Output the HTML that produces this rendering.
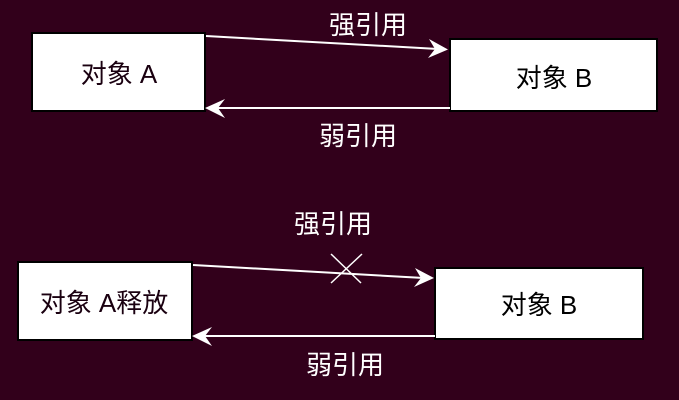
<!DOCTYPE html>
<html>
<head>
<meta charset="utf-8">
<style>
html,body{margin:0;padding:0;background:#32001b;}
svg{display:block;}
text{font-family:"Liberation Sans","Noto Sans CJK SC",sans-serif;}
</style>
</head>
<body>
<svg width="679" height="400" viewBox="0 0 679 400" xmlns="http://www.w3.org/2000/svg">
<rect x="0" y="0" width="679" height="400" fill="#32001b"/>
<!-- Top section -->
<rect x="32" y="33" width="173" height="78" fill="#fff" stroke="#000" stroke-width="2"/>
<text x="119" y="83" font-size="26" text-anchor="middle" fill="#1a0010">对象 A</text>
<rect x="450" y="39" width="207" height="72" fill="#fff" stroke="#000" stroke-width="2"/>
<text x="554" y="87" font-size="26" text-anchor="middle" fill="#000">对象 B</text>

<line x1="206" y1="36" x2="438" y2="49" stroke="#fff" stroke-width="2"/>
<polygon points="448,49.5 428,58 435,49 429,39" fill="#fff"/>
<text x="368" y="34" font-size="26" text-anchor="middle" fill="#fff">强引用</text>

<line x1="450" y1="108" x2="215" y2="108" stroke="#fff" stroke-width="2"/>
<polygon points="205,108 225,99 218,108 225,118" fill="#fff"/>
<text x="358" y="145" font-size="26" text-anchor="middle" fill="#fff">弱引用</text>

<!-- Bottom section -->
<rect x="18" y="262" width="174" height="78" fill="#fff" stroke="#000" stroke-width="2"/>
<text x="104" y="312" font-size="26" text-anchor="middle" fill="#1a0010">对象 A释放</text>
<rect x="435" y="268" width="208" height="71" fill="#fff" stroke="#000" stroke-width="2"/>
<text x="539" y="314" font-size="26" text-anchor="middle" fill="#000">对象 B</text>

<line x1="193" y1="265" x2="424" y2="278" stroke="#fff" stroke-width="2"/>
<polygon points="434,278 414,287 421,278 415,268" fill="#fff"/>
<line x1="331" y1="254" x2="361" y2="283" stroke="#fff" stroke-width="1.5"/>
<line x1="362" y1="254" x2="331" y2="283" stroke="#fff" stroke-width="1.5"/>
<text x="333" y="233" font-size="26" text-anchor="middle" fill="#fff">强引用</text>

<line x1="435" y1="336" x2="202" y2="336" stroke="#fff" stroke-width="2"/>
<polygon points="192,336 212,327 205,336 212,346" fill="#fff"/>
<text x="345" y="374" font-size="26" text-anchor="middle" fill="#fff">弱引用</text>
</svg>
</body>
</html>
